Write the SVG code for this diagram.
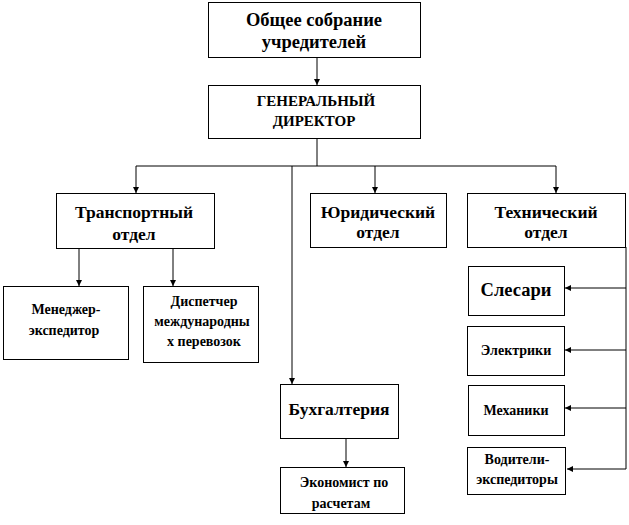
<svg xmlns="http://www.w3.org/2000/svg" width="629" height="525" viewBox="0 0 629 525">
<style>
.box{fill:#fff;stroke:#000;stroke-width:1}
text{font-family:'Liberation Serif','Times New Roman',serif;font-weight:700;fill:#000;text-anchor:middle;dominant-baseline:central}
.l{font-size:17.5px}
.m{font-size:15px}
.s{font-size:14px}
.c{fill:none;stroke:#000;stroke-width:1}
</style>
<defs>
<marker id="ah" viewBox="0 0 10 10" refX="10" refY="5" markerWidth="6" markerHeight="6" markerUnits="userSpaceOnUse" orient="auto">
<path d="M0,0 L10,5 L0,10 z" fill="#000"/>
</marker>
</defs>
<g id="connectors">
<line class="c" x1="317" y1="57" x2="317" y2="85" marker-end="url(#ah)"/>
<line class="c" x1="317" y1="139" x2="317" y2="166"/>
<line class="c" x1="136" y1="166" x2="556" y2="166"/>
<line class="c" x1="136" y1="166" x2="136" y2="193" marker-end="url(#ah)"/>
<line class="c" x1="375" y1="166" x2="375" y2="193" marker-end="url(#ah)"/>
<line class="c" x1="556" y1="166" x2="556" y2="193" marker-end="url(#ah)"/>
<line class="c" x1="292" y1="166" x2="292" y2="384" marker-end="url(#ah)"/>
<line class="c" x1="79" y1="249" x2="79" y2="286" marker-end="url(#ah)"/>
<line class="c" x1="173" y1="249" x2="173" y2="286" marker-end="url(#ah)"/>
<line class="c" x1="346" y1="438" x2="346" y2="467" marker-end="url(#ah)"/>
<line class="c" x1="626" y1="247" x2="626" y2="469"/>
<line class="c" x1="626" y1="288" x2="565" y2="288" marker-end="url(#ah)"/>
<line class="c" x1="626" y1="350" x2="565" y2="350" marker-end="url(#ah)"/>
<line class="c" x1="626" y1="408" x2="565" y2="408" marker-end="url(#ah)"/>
<line class="c" x1="626" y1="469" x2="567" y2="469" marker-end="url(#ah)"/>
</g>
<g id="n1"><rect class="box" x="208.5" y="2.5" width="212" height="55"/><text class="l" style="font-size:18.5px" x="314" y="20">Общее собрание</text><text class="l" style="font-size:18.5px" x="314" y="42">учредителей</text></g>
<g id="n2"><rect class="box" x="208.5" y="85.5" width="212" height="53"/><text class="m" x="316" y="101">ГЕНЕРАЛЬНЫЙ</text><text class="m" x="314" y="121">ДИРЕКТОР</text></g>
<g id="n3"><rect class="box" x="56.5" y="193.5" width="158" height="55"/><text class="l" x="134" y="212">Транспортный</text><text class="l" x="134" y="234">отдел</text></g>
<g id="n4"><rect class="box" x="310.5" y="193.5" width="136" height="54"/><text class="l" x="378" y="212">Юридический</text><text class="l" x="378" y="232">отдел</text></g>
<g id="n5"><rect class="box" x="467.5" y="193.5" width="158" height="54"/><text class="l" x="546" y="212">Технический</text><text class="l" x="546" y="232">отдел</text></g>
<g id="n6"><rect class="box" x="3.5" y="286.5" width="125" height="73"/><text class="s" x="66" y="309">Менеджер-</text><text class="s" x="64" y="330">экспедитор</text></g>
<g id="n7"><rect class="box" x="143.5" y="286.5" width="115" height="76"/><text class="s" x="204" y="301">Диспетчер</text><text class="s" x="202" y="321">международны</text><text class="s" x="204" y="341">х перевозок</text></g>
<g id="n8"><rect class="box" x="468.5" y="266.5" width="96" height="49"/><text class="l" style="font-size:18.5px" x="516" y="290">Слесари</text></g>
<g id="n9"><rect class="box" x="467.5" y="326.5" width="97" height="49"/><text class="s" x="516" y="350">Электрики</text></g>
<g id="n10"><rect class="box" x="468.5" y="385.5" width="96" height="50"/><text class="s" x="516" y="410">Механики</text></g>
<g id="n11"><rect class="box" x="467.5" y="447.5" width="98" height="47"/><text class="s" x="517" y="459">Водители-</text><text class="s" x="517" y="479">экспедиторы</text></g>
<g id="n12"><rect class="box" x="280.5" y="384.5" width="118" height="54"/><text class="l" x="339" y="409">Бухгалтерия</text></g>
<g id="n13"><rect class="box" x="280.5" y="467.5" width="124" height="46"/><text class="s" x="344" y="482">Экономист по</text><text class="s" x="341" y="503">расчетам</text></g>
</svg>
